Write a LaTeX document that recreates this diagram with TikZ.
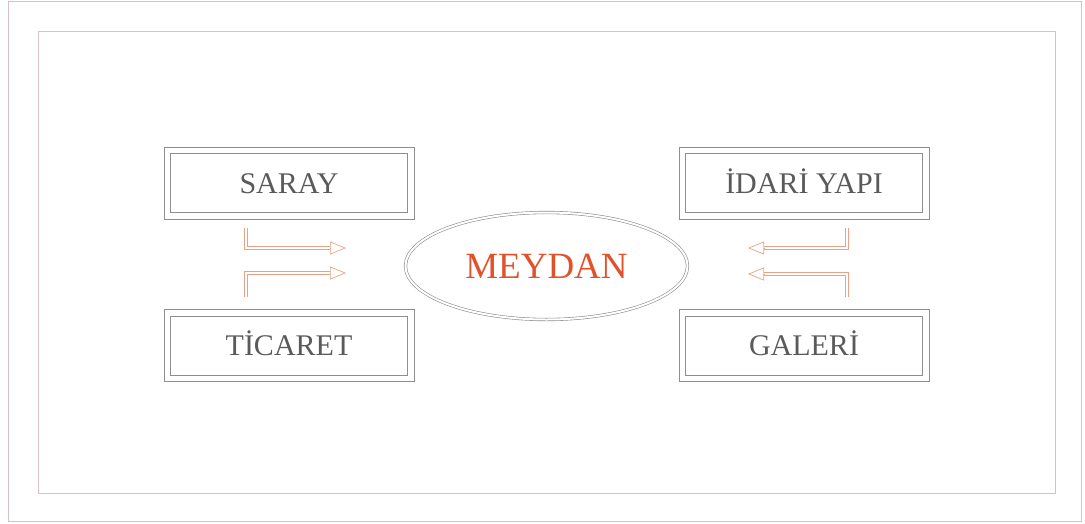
\documentclass[tikz,border=0pt]{standalone}
\usepackage{fontspec}
\setmainfont{Liberation Serif}
\usetikzlibrary{arrows.meta, shapes.geometric}
\definecolor{cer}{HTML}{DCBFC6}
\definecolor{kut}{HTML}{8E8E8E}
\definecolor{yaz}{HTML}{5A5A5A}
\definecolor{okc}{HTML}{E9A285}
\definecolor{mey}{HTML}{E0522A}

\begin{document}
\begin{tikzpicture}[x=1pt, y=-1pt, line width=0.7pt,
    bina/.style={rectangle, draw=kut, line width=0.8pt,
      minimum width=250pt, minimum height=72pt, inner sep=0pt,
      text height=20pt, text depth=0pt,
      text=yaz, font=\fontsize{30}{30}\selectfont},
    ic/.style={draw=kut, line width=0.8pt},
    ok/.style={draw=okc, double=white, double distance=2pt, line width=0.6pt},
    uc/.style={draw=okc, line width=0.7pt,
      -{Triangle[open, length=16pt, width=13pt]}}]
    \useasboundingbox (0,0) rectangle (1085,523);
    % cerceve
    \draw[cer, line width=0.9pt] (8,1) rectangle (1081,521);
    \draw[cer, line width=0.9pt] (38,31) rectangle (1055,493);
    % yapilar
    \foreach \n/\x/\y/\t in {saray/289/183/SARAY, idari/804/183/İDARİ YAPI,
      ticaret/289/345.5/TİCARET, galeri/804/345.5/GALERİ}{
      \node[bina] (\n) at (\x,\y) {\t};
      \draw[ic] ([shift={(7,7)}]\n.north west)
        rectangle ([shift={(-7,-7)}]\n.south east);
    }
    \node[ellipse, draw=kut, double=white, double distance=2pt,
          line width=0.6pt, minimum width=282pt, minimum height=107pt,
          inner sep=0pt, text=mey, font=\fontsize{37}{37}\selectfont]
          (meydan) at (546.5,266) {MEYDAN};
    % oklar
    \foreach \k/\xa/\xb/\xt/\ya/\yb in {1/246/330/346/228/248,
      2/246/330/346/297/273, 3/847/764/748/228/248, 4/847/764/748/297/274}{
      \coordinate (a\k) at (\xa,\ya);
      \coordinate (b\k) at (\xb,\yb);
      \coordinate (t\k) at (\xt,\yb);
      \draw[ok] (a\k) |- (b\k);
      \draw[uc] (b\k) -- (t\k);
    }
\end{tikzpicture}
\end{document}
